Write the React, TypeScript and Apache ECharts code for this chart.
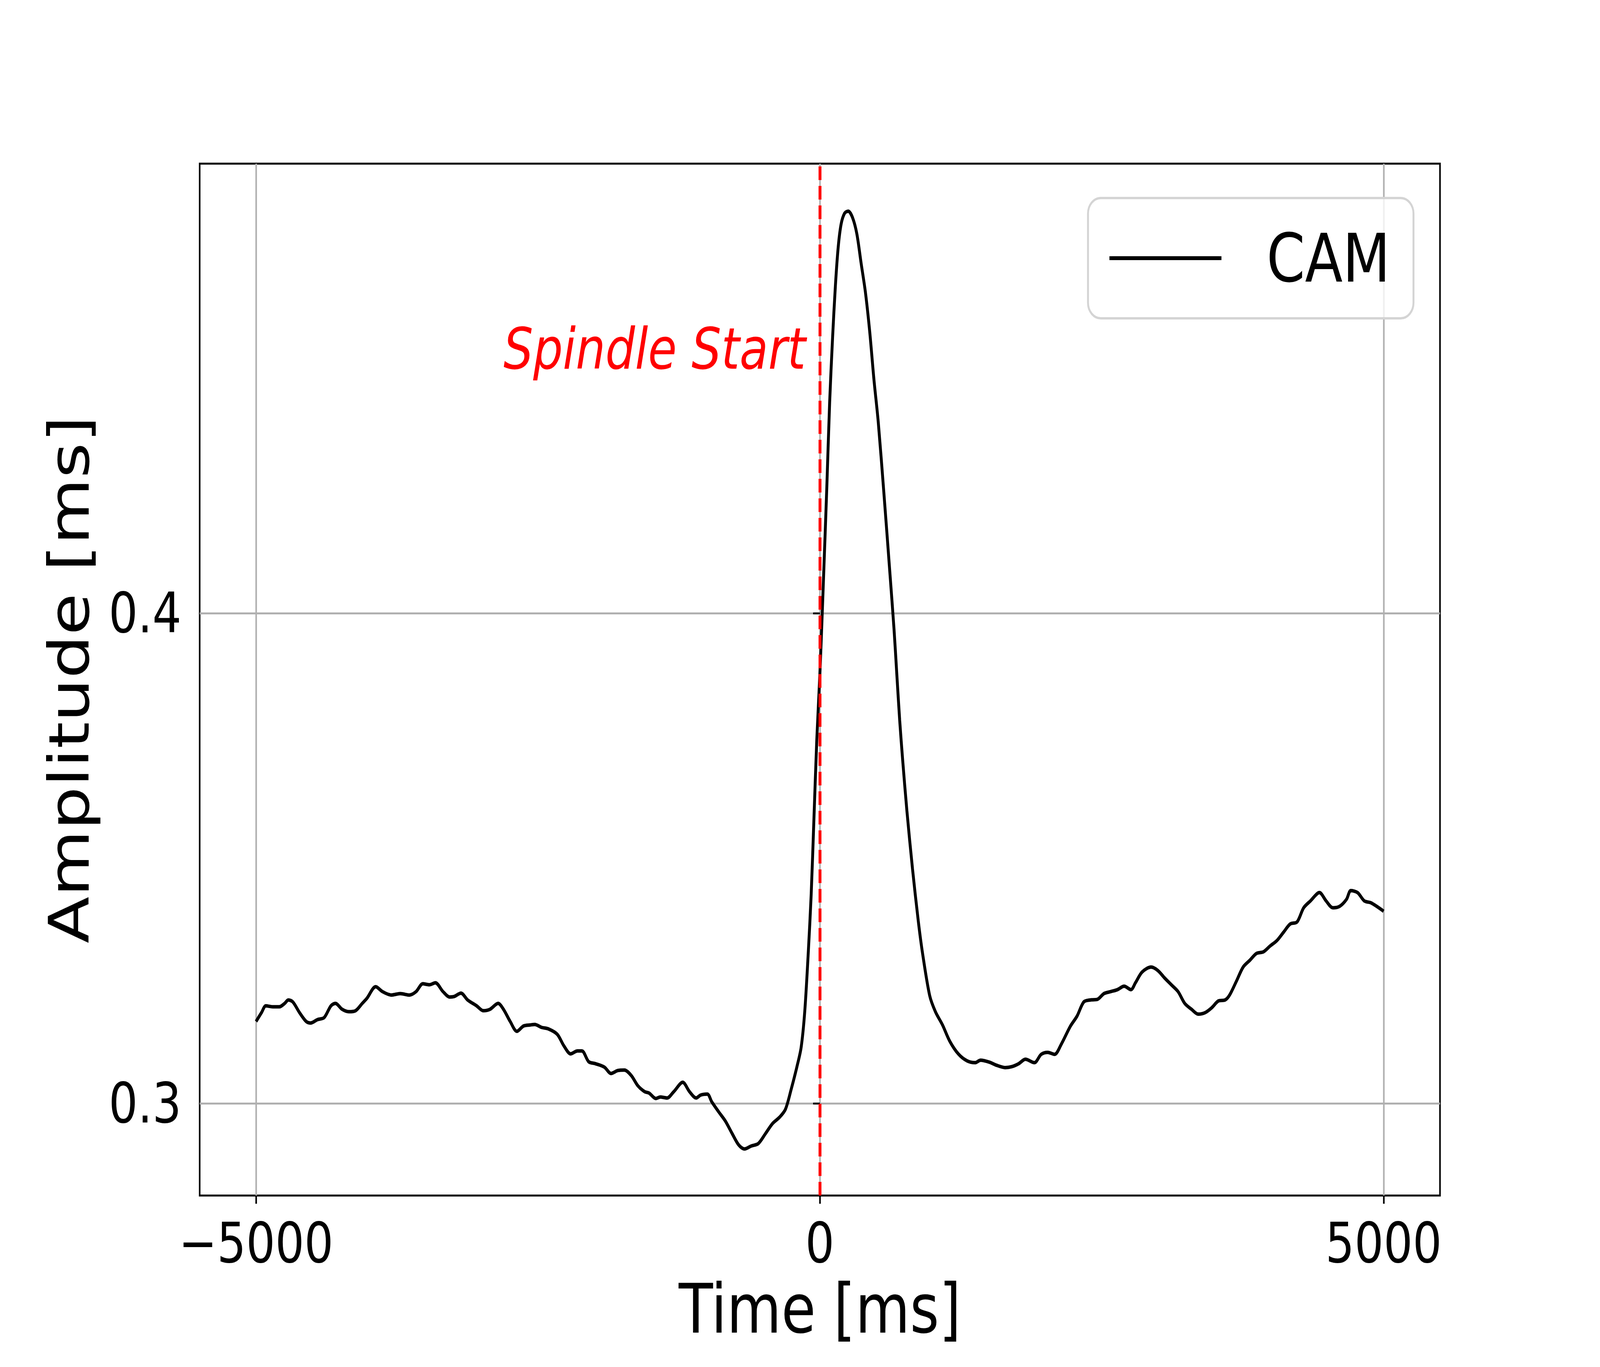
import React, { useEffect, useRef, useState } from "react";
import * as echarts from "echarts";

const TIME_MS = [
  -5000, -4952, -4913, -4853, -4793, -4746, -4714, -4674, -4614, -4555, -4515, -4455, -4396, -4336, -4296,
  -4237, -4177, -4118, -4058, -4018, -3939, -3879, -3800, -3720, -3641, -3581, -3521, -3462, -3410, -3342,
  -3283, -3243, -3183, -3124, -3044, -2985, -2925, -2853, -2806, -2746, -2687, -2627, -2568, -2528, -2468,
  -2408, -2329, -2269, -2210, -2150, -2110, -2050, -1991, -1911, -1852, -1792, -1733, -1673, -1614, -1554,
  -1514, -1455, -1415, -1355, -1295, -1216, -1156, -1097, -1057, -998, -958, -898, -838, -779, -719,
  -668, -609, -546, -483, -419, -356, -305, -255, -204, -166, -134, -103, -77, -52, -27,
  0, 18, 37, 62, 87, 113, 138, 163, 189, 220, 252, 290, 328, 366, 404,
  442, 480, 518, 568, 620, 658, 683, 708, 734, 772, 822, 873, 911, 974, 1025,
  1088, 1152, 1228, 1304, 1377, 1425, 1505, 1564, 1644, 1704, 1764, 1823, 1903, 1963, 2022,
  2082, 2142, 2221, 2281, 2341, 2400, 2460, 2520, 2580, 2639, 2699, 2759, 2799, 2858, 2938,
  2998, 3057, 3117, 3177, 3236, 3296, 3356, 3416, 3475, 3535, 3595, 3634, 3694, 3754, 3814,
  3873, 3933, 3993, 4053, 4112, 4172, 4232, 4291, 4351, 4431, 4490, 4550, 4610, 4670, 4709,
  4769, 4829, 4889, 5000,
];

const CAM_AMPLITUDE = [
  0.3167, 0.3185, 0.3199, 0.3197, 0.3197, 0.3204, 0.3211, 0.3207, 0.3185, 0.3167, 0.3164, 0.3171, 0.3175, 0.3199, 0.3204,
  0.3192, 0.3187, 0.3189, 0.3204, 0.3214, 0.3238, 0.3228, 0.3221, 0.3224, 0.3221, 0.3228, 0.3244, 0.3242, 0.3246, 0.3228,
  0.3217, 0.3218, 0.3225, 0.3211, 0.3199, 0.3189, 0.3192, 0.3204, 0.3192, 0.3167, 0.3147, 0.3158, 0.316, 0.3161, 0.3155,
  0.3152, 0.3141, 0.3117, 0.3101, 0.3107, 0.3107, 0.3085, 0.3081, 0.3074, 0.3061, 0.3067, 0.3068, 0.3057, 0.3036, 0.3024,
  0.3021, 0.301, 0.3013, 0.3011, 0.3024, 0.3043, 0.3024, 0.3011, 0.3017, 0.3019, 0.3003, 0.2983, 0.2964, 0.2939, 0.2915,
  0.2907, 0.2913, 0.2918, 0.2938, 0.2959, 0.2972, 0.2988, 0.3028, 0.3074, 0.3114, 0.3187, 0.3306, 0.3425, 0.3583, 0.3742,
  0.3874, 0.398, 0.4099, 0.4258, 0.443, 0.4562, 0.4668, 0.4747, 0.4794, 0.4816, 0.482, 0.4807, 0.4774, 0.4714, 0.4655,
  0.4575, 0.4476, 0.439, 0.4245, 0.4086, 0.3967, 0.3874, 0.3782, 0.3702, 0.3597, 0.3478, 0.3372, 0.3306, 0.322, 0.3187,
  0.316, 0.3127, 0.3101, 0.3087, 0.3083, 0.3088, 0.3084, 0.3078, 0.3073, 0.3075, 0.3081, 0.309, 0.3083, 0.31, 0.3104,
  0.31, 0.3121, 0.3157, 0.3178, 0.3207, 0.3211, 0.3212, 0.3224, 0.3228, 0.3232, 0.3239, 0.3232, 0.3246, 0.3268, 0.3278,
  0.3271, 0.3256, 0.3242, 0.3228, 0.3204, 0.3192, 0.3182, 0.3185, 0.3195, 0.3209, 0.3211, 0.3221, 0.3249, 0.3278, 0.3292,
  0.3306, 0.3309, 0.3321, 0.3332, 0.3349, 0.3366, 0.337, 0.3399, 0.3413, 0.343, 0.3413, 0.3399, 0.3402, 0.3416, 0.3434,
  0.343, 0.3413, 0.3409, 0.3392,
];

const X_TICKS = [-5000, 0, 5000];
const Y_TICKS = [0.3, 0.4];
const X_RANGE = [-5500, 5500];
const Y_RANGE = [0.2812, 0.4917];
const SPINDLE_START_MS = 0;
const ANNOTATION_TEXT = "Spindle Start";
const ANNOTATION_AT = [-125, 0.4539];
const SERIES_NAME = "CAM";

const FONT = "DejaVu Sans";
const CHART_W = 5000;
const CHART_H = 3500;

export default function App() {
  const ref = useRef<HTMLDivElement>(null);
  const [scale, setScale] = useState<[number, number]>([1, 1]);

  useEffect(() => {
    const update = () => {
      const sx = Math.min(1, window.innerWidth / CHART_W);
      const sy = Math.min(1, window.innerHeight / CHART_H);
      setScale([sx, sy]);
    };
    update();
    window.addEventListener("resize", update);
    return () => window.removeEventListener("resize", update);
  }, []);

  useEffect(() => {
    if (!ref.current) return;
    const chart = echarts.init(ref.current, null, { renderer: "svg", width: CHART_W, height: CHART_H });
    const data = TIME_MS.map((t, i) => [t, CAM_AMPLITUDE[i]]);

    const option: any = {
      animation: false,
      backgroundColor: "#ffffff",
      textStyle: { fontFamily: FONT, color: "#000" },
      grid: {
        left: 624,
        right: 500,
        top: 419,
        bottom: 439,
        show: true,
        borderColor: "#000",
        borderWidth: 5,
        backgroundColor: "transparent",
      },
      legend: {
        data: [SERIES_NAME],
        left: 3400,
        top: 507,
        orient: "horizontal",
        icon: "rect",
        itemWidth: 350,
        itemHeight: 10,
        padding: [68, 73, 68, 67],
        backgroundColor: "rgba(255,255,255,0.8)",
        borderColor: "#d4d4d4",
        borderWidth: 6,
        borderRadius: 40,
        textStyle: {
          fontFamily: FONT,
          fontSize: 172,
          lineHeight: 170,
          color: "#000",
          padding: [0, 0, 0, 136],
        },
      },
      xAxis: {
        type: "value",
        min: X_RANGE[0],
        max: X_RANGE[1],
        name: "Time [ms]",
        nameLocation: "middle",
        nameGap: 203,
        nameTextStyle: { fontFamily: FONT, fontSize: 175, color: "#000" },
        axisLine: { show: false },
        axisTick: {
          show: true,
          inside: false,
          length: 21,
          customValues: X_TICKS,
          lineStyle: { color: "#000", width: 5 },
        },
        axisLabel: {
          show: true,
          margin: 50,
          fontFamily: FONT,
          fontSize: 143,
          color: "#000",
          customValues: X_TICKS,
          formatter: (v: number) => String(v).replace("-", "\u2212"),
        },
        splitLine: { show: true, lineStyle: { color: "#b0b0b0", width: 5 } },
      },
      yAxis: {
        type: "value",
        min: Y_RANGE[0],
        max: Y_RANGE[1],
        name: "Amplitude [ms]",
        nameLocation: "middle",
        nameGap: 320,
        nameTextStyle: { fontFamily: FONT, fontSize: 175, color: "#000" },
        axisLine: { show: false },
        axisTick: {
          show: true,
          inside: false,
          length: 21,
          customValues: Y_TICKS,
          lineStyle: { color: "#000", width: 5 },
        },
        axisLabel: {
          show: true,
          margin: 57,
          fontFamily: FONT,
          fontSize: 143,
          color: "#000",
          customValues: Y_TICKS,
          formatter: (v: number) => v.toFixed(1),
        },
        splitLine: { show: true, lineStyle: { color: "#b0b0b0", width: 5 } },
      },
      series: [
        {
          name: SERIES_NAME,
          type: "line",
          data,
          showSymbol: false,
          symbol: "none",
          smooth: 0.3,
          color: "#000",
          lineStyle: { color: "#000", width: 9 },
          z: 3,
          markLine: {
            silent: true,
            symbol: "none",
            label: { show: false },
            lineStyle: { color: "#ff0000", width: 9, type: [35, 15] },
            data: [{ xAxis: SPINDLE_START_MS }],
          },
        },
      ],
    };

    chart.setOption(option);

    const pt = chart.convertToPixel({ gridIndex: 0 }, ANNOTATION_AT) as number[];
    chart.setOption({
      graphic: [
        {
          type: "text",
          x: pt[0],
          y: pt[1],
          z: 10,
          style: {
            text: ANNOTATION_TEXT,
            fill: "#ff0000",
            fontFamily: FONT,
            fontSize: 146,
            fontStyle: "italic",
            align: "right",
            verticalAlign: "middle",
            textAlign: "right",
            textVerticalAlign: "middle",
          },
        },
      ],
    });

    return () => chart.dispose();
  }, []);

  return (
    <div
      style={{
        position: "fixed",
        left: 0,
        top: 0,
        width: "100vw",
        height: "100vh",
        overflow: "hidden",
        background: "#fff",
      }}
    >
      <div
        ref={ref}
        style={{
          position: "absolute",
          left: 0,
          top: 0,
          width: CHART_W,
          height: CHART_H,
          background: "#fff",
          transformOrigin: "0 0",
          transform: `scale(${scale[0]}, ${scale[1]})`,
        }}
      />
    </div>
  );
}
